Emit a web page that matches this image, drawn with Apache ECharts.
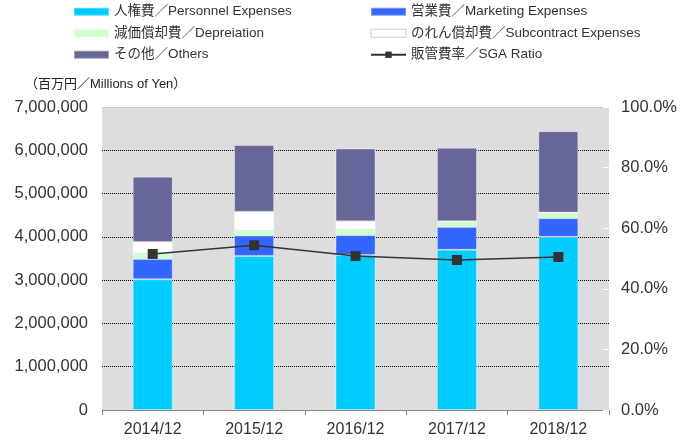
<!DOCTYPE html>
<html>
<head>
<meta charset="utf-8">
<script src="https://cdn.jsdelivr.net/npm/echarts@6/dist/echarts.min.js"></script>
<style>
  html, body { margin: 0; padding: 0; background: #fff; }
  #main { width: 680px; height: 444px; }
</style>
</head>
<body>
<div id="main"></div>
<script>
var years = ["2014/12", "2015/12", "2016/12", "2017/12", "2018/12"];
var personnel = [3020000, 3560000, 3580000, 3700000, 4000000];
var marketing = [470000, 470000, 460000, 530000, 430000];
var depreciation = [130000, 120000, 130000, 130000, 130000];
var subcontract = [260000, 430000, 190000, 0, 0];
var others = [1510000, 1540000, 1680000, 1700000, 1880000];
var sgaRatio = [51.5, 54.4, 50.8, 49.5, 50.5];

var fontFamily = "'Liberation Sans', 'Noto Sans CJK JP', sans-serif";
var chart = echarts.init(document.getElementById("main"));

var barBorder = { borderColor: "rgba(255,255,255,0.35)", borderWidth: 1 };
function barSeries(name, data, color) {
  return {
    name: name,
    type: "bar",
    stack: "sga",
    barWidth: 40,
    data: data,
    itemStyle: Object.assign({ color: color }, barBorder),
  };
}

var legendBase = {
  top: 5,
  orient: "vertical",
  padding: 0,
  itemWidth: 35,
  itemHeight: 8,
  itemGap: 8,
  textStyle: { fontSize: 13.5, color: "#333", fontFamily: fontFamily },
};

var option = {
  animation: false,
  textStyle: { fontFamily: fontFamily },
  title: {
    text: "（百万円／Millions of Yen）",
    left: 20,
    top: 73,
    textStyle: { fontSize: 13, fontWeight: "normal", color: "#222", fontFamily: fontFamily },
  },
  legend: [
    Object.assign({}, legendBase, {
      left: 73,
      data: [
        { name: "人権費／Personnel Expenses", icon: "rect" },
        { name: "減価償却費／Depreiation", icon: "rect" },
        { name: "その他／Others", icon: "rect" },
      ],
    }),
    Object.assign({}, legendBase, {
      left: 370,
      data: [
        { name: "営業費／Marketing Expenses", icon: "rect" },
        { name: "のれん償却費／Subcontract Expenses", icon: "rect", itemStyle: { borderColor: "#cccccc", borderWidth: 1 } },
        "販管費率／SGA Ratio",
      ],
    }),
  ],
  grid: {
    left: 102,
    right: 70,
    top: 107,
    bottom: 34,
    show: true,
    backgroundColor: "#dddddd",
    borderWidth: 0,
  },
  xAxis: {
    type: "category",
    data: years,
    axisLine: { lineStyle: { color: "#888888" } },
    axisTick: { show: true, length: 5, lineStyle: { color: "#888888" } },
    axisLabel: { fontSize: 16, color: "#333", margin: 12, fontFamily: fontFamily },
  },
  yAxis: [
    {
      type: "value",
      min: 0,
      max: 7000000,
      interval: 1000000,
      axisLine: { show: false },
      axisTick: { show: false },
      axisLabel: {
        fontSize: 16.5,
        color: "#333",
        margin: 14,
        fontFamily: fontFamily,
        formatter: function (v) { return v.toLocaleString("en-US"); },
      },
      splitLine: {
        lineStyle: {
          color: ["#000", "#000", "#000", "#000", "#000", "#000", "#000", "#bbbbbb"],
          type: "dotted",
          width: 1,
        },
      },
    },
    {
      type: "value",
      min: 0,
      max: 100,
      interval: 20,
      axisLine: { show: false },
      axisTick: { show: true, inside: true, length: 6, lineStyle: { color: "#ffffff" } },
      axisLabel: {
        fontSize: 16.5,
        color: "#333",
        margin: 12,
        fontFamily: fontFamily,
        formatter: function (v) { return v.toFixed(1) + "%"; },
      },
      splitLine: { show: false },
    },
  ],
  series: [
    barSeries("人権費／Personnel Expenses", personnel, "#00ccff"),
    barSeries("営業費／Marketing Expenses", marketing, "#3366ff"),
    barSeries("減価償却費／Depreiation", depreciation, "#ccffcc"),
    barSeries("のれん償却費／Subcontract Expenses", subcontract, "#ffffff"),
    barSeries("その他／Others", others, "#666699"),
    {
      name: "販管費率／SGA Ratio",
      type: "line",
      yAxisIndex: 1,
      data: sgaRatio,
      symbol: "rect",
      symbolSize: 10,
      lineStyle: { color: "#333333", width: 1.5 },
      itemStyle: { color: "#333333" },
    },
  ],
};
chart.setOption(option);
</script>
</body>
</html>
